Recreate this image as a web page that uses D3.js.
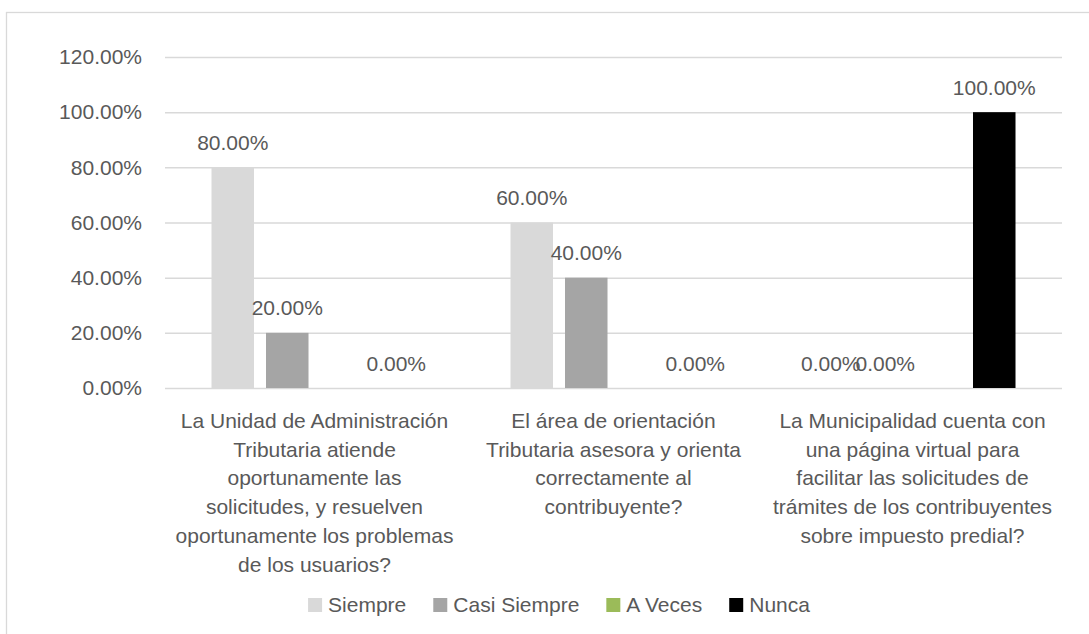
<!DOCTYPE html>
<html>
<head>
<meta charset="utf-8">
<script src="https://cdn.jsdelivr.net/npm/d3@7"></script>
<style>
  html, body { margin: 0; padding: 0; background: #ffffff; }
  svg { display: block; }
  text { font-family: "Liberation Sans", Arial, sans-serif; fill: #595959; }
</style>
</head>
<body>
<svg id="chart" width="1089" height="634"></svg>
<script>
// Survey questions (line breaks mark how each label wraps)
const categories = [
  "La Unidad de Administración\nTributaria atiende\noportunamente las\nsolicitudes, y resuelven\noportunamente los problemas\nde los usuarios?",
  "El área de orientación\nTributaria asesora y orienta\ncorrectamente al\ncontribuyente?",
  "La Municipalidad cuenta con\nuna página virtual para\nfacilitar las solicitudes de\ntrámites de los contribuyentes\nsobre impuesto predial?"
];
const seriesNames = ["Siempre", "Casi Siempre", "A Veces", "Nunca"];
const siempre     = [0.80, 0.60, 0.00];
const casiSiempre = [0.20, 0.40, 0.00];
const aVeces      = [null, null, null];
const nunca       = [0.00, 0.00, 1.00];
const seriesColors = ["#d9d9d9", "#a5a5a5", "#9bbb59", "#000000"];
const yTicks = [0, 0.2, 0.4, 0.6, 0.8, 1.0, 1.2];

const seriesValues = [siempre, casiSiempre, aVeces, nunca];

const svg = d3.select("#chart");
const W = 1089, H = 634;
const plot = { left: 165, right: 1062, top: 57, bottom: 388 };
const fontSize = 21;
const pct = d3.format(".2%");

// Chart area outline
svg.append("rect")
  .attr("x", 6.5).attr("y", 12.5)
  .attr("width", W + 20).attr("height", H + 20)
  .attr("fill", "none").attr("stroke", "#d9d9d9").attr("stroke-width", 1.3);

const x0 = d3.scaleBand()
  .domain(d3.range(categories.length))
  .range([plot.left, plot.right])
  .paddingInner(0.311).paddingOuter(0.1555);

const x1 = d3.scaleBand()
  .domain(d3.range(seriesNames.length))
  .range([0, x0.bandwidth()])
  .paddingInner(0.22).paddingOuter(0);

const y = d3.scaleLinear().domain([0, 1.2]).range([plot.bottom, plot.top]);

// Value axis with gridlines
const yAxis = svg.append("g")
  .attr("transform", `translate(${plot.left},0)`)
  .call(d3.axisLeft(y)
    .tickValues(yTicks)
    .tickFormat(pct)
    .tickSizeInner(-(plot.right - plot.left))
    .tickSizeOuter(0)
    .tickPadding(23));
yAxis.select(".domain").remove();
yAxis.selectAll(".tick line").attr("stroke", "#d9d9d9").attr("stroke-width", 1.5);
yAxis.selectAll(".tick text")
  .attr("font-size", fontSize)
  .style("font-family", '"Liberation Sans", Arial, sans-serif')
  .attr("fill", "#595959");

// Bars
const barData = [];
categories.forEach((c, ci) => {
  seriesValues.forEach((vals, si) => {
    barData.push({ ci, si, v: vals[ci] });
  });
});

const groups = svg.append("g");
groups.selectAll("rect")
  .data(barData.filter(d => d.v !== null && d.v > 0))
  .join("rect")
  .attr("x", d => x0(d.ci) + x1(d.si))
  .attr("y", d => y(d.v))
  .attr("width", x1.bandwidth())
  .attr("height", d => y(0) - y(d.v))
  .attr("fill", d => seriesColors[d.si]);

// Data labels
svg.append("g").selectAll("text")
  .data(barData.filter(d => d.v !== null))
  .join("text")
  .attr("x", d => x0(d.ci) + x1(d.si) + x1.bandwidth() / 2)
  .attr("y", d => y(d.v) - 17.5)
  .attr("text-anchor", "middle")
  .attr("font-size", fontSize)
  .text(d => pct(d.v));

// Category labels
const catG = svg.append("g");
categories.forEach((c, ci) => {
  const t = catG.append("text")
    .attr("x", x0(ci) + x0.bandwidth() / 2)
    .attr("y", 428)
    .attr("text-anchor", "middle")
    .attr("font-size", fontSize);
  c.split("\n").forEach((line, li) => {
    t.append("tspan")
      .attr("x", x0(ci) + x0.bandwidth() / 2)
      .attr("dy", li === 0 ? 0 : 28.7)
      .text(line);
  });
});

// Legend
const legend = svg.append("g");
const sw = 14, swGap = 6, itemGap = 27;
let cursor = 0;
const items = seriesNames.map((name, i) => {
  const g = legend.append("g");
  g.append("rect").attr("x", 0).attr("y", -14).attr("width", sw).attr("height", sw)
    .attr("fill", seriesColors[i]);
  const t = g.append("text").attr("x", sw + swGap).attr("y", 0)
    .attr("font-size", fontSize).text(name);
  const w = sw + swGap + t.node().getComputedTextLength();
  g.attr("transform", `translate(${cursor},0)`);
  cursor += w + itemGap;
  return g;
});
const legendWidth = cursor - itemGap;
legend.attr("transform", `translate(${559 - legendWidth / 2},612)`);
</script>
</body>
</html>
